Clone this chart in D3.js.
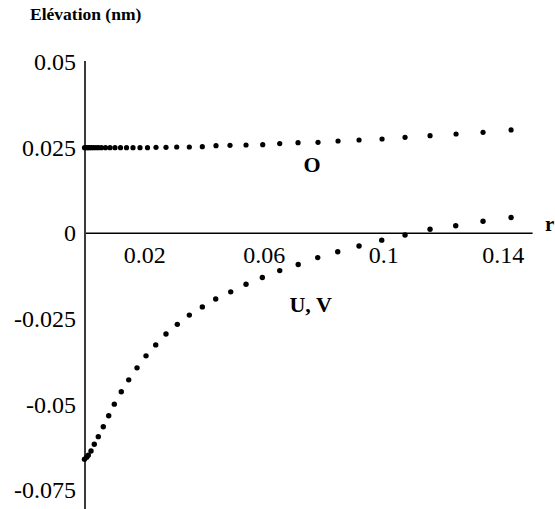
<!DOCTYPE html>
<html>
<head>
<meta charset="utf-8">
<script src="https://cdn.jsdelivr.net/npm/d3@7"></script>
<style>
  html, body { margin: 0; padding: 0; background: #fff; }
  svg { display: block; }
  svg text { font-family: "Liberation Serif", serif; }
</style>
</head>
<body>
<script>
// ---- data ----
const rO = [0, 0.00067, 0.00117, 0.00167, 0.00234, 0.00301, 0.00385, 0.00469, 0.00569,
  0.00703, 0.00854, 0.01021, 0.01205, 0.01406, 0.01624, 0.01858, 0.02109, 0.02394,
  0.02728, 0.03087, 0.03509, 0.03944, 0.04402, 0.04871, 0.05407, 0.05966, 0.06535,
  0.07148, 0.07817, 0.08487, 0.09190, 0.09960, 0.10730, 0.11567, 0.12437, 0.13341, 0.14279];
const elevO = [0.0250, 0.0250, 0.0250, 0.0250, 0.0250, 0.0250, 0.0250, 0.0250, 0.0250,
  0.0250, 0.0250, 0.0250, 0.0250, 0.0250, 0.0250, 0.0250, 0.0250, 0.0251,
  0.02512, 0.0252, 0.0252, 0.02529, 0.02558, 0.0257, 0.02579, 0.02588, 0.0262,
  0.02646, 0.02658, 0.02696, 0.02725, 0.02754, 0.02804, 0.0285, 0.0290, 0.0295, 0.0302];

const rUV = [0, 0.00074, 0.00127, 0.00218, 0.00328, 0.00462, 0.00629, 0.00810, 0.00998,
  0.01232, 0.01480, 0.01758, 0.02059, 0.02384, 0.02728, 0.03107, 0.03509, 0.03944,
  0.04392, 0.04895, 0.05407, 0.05953, 0.06535, 0.07154, 0.07807, 0.08477, 0.09190,
  0.09950, 0.10730, 0.11567, 0.12427, 0.13341, 0.14279];
const elevUV = [-0.0660, -0.0654, -0.0648, -0.0636, -0.0616, -0.0594, -0.0565, -0.0533, -0.0499,
  -0.0463, -0.0428, -0.0393, -0.0358, -0.0326, -0.0294, -0.0266, -0.0239, -0.0215,
  -0.0192, -0.0171, -0.0149, -0.0129, -0.0109, -0.0091, -0.0071, -0.0054, -0.0037,
  -0.0020, -0.0005, 0.0012, 0.0022, 0.0035, 0.0046];

const xTicks = [0.02, 0.06, 0.1, 0.14];
const yTicks = [0.05, 0.025, 0, -0.025, -0.05, -0.075];
const yTickLabels = ["0.05", "0.025", "0", "-0.025", "-0.05", "-0.075"];
const xTickLabels = ["0.02", "0.06", "0.1", "0.14"];

const titleText = "Elévation (nm)";
const xAxisName = "r";
const seriesLabels = [
  { text: "O", r: 0.0762, v: 0.0179 },
  { text: "U, V", r: 0.0757, v: -0.0230 }
];

// ---- chart ----
const W = 555, H = 509;
const serif = "Liberation Serif, serif";
const svg = d3.select("body").append("svg").attr("width", W).attr("height", H)
  .style("font-family", serif);

const x = d3.scaleLinear().domain([0, 0.15]).range([84.5, 532.6]);
const y = d3.scaleLinear().domain([-0.08, 0.05]).range([507.2, 62.1]);

// y axis (labels only)
const yAxis = d3.axisLeft(y).tickValues(yTicks).tickSize(0).tickPadding(9)
  .tickFormat((d, i) => yTickLabels[i]);
const gy = svg.append("g").attr("transform", "translate(85,0)").call(yAxis)
  .attr("font-family", serif).attr("font-size", 24);
gy.select(".domain").remove();
gy.selectAll("text").style("font-family", serif).style("font-size", "24px").attr("fill", "#000");

// x axis (labels only)
const xAxis = d3.axisBottom(x).tickValues(xTicks).tickSize(0).tickPadding(13)
  .tickFormat((d, i) => xTickLabels[i]);
const gx = svg.append("g").attr("transform", `translate(0,${y(0)})`).call(xAxis)
  .attr("font-family", serif).attr("font-size", 24);
gx.select(".domain").remove();
gx.selectAll("text").style("font-family", serif).style("font-size", "24px").attr("fill", "#000");

// axis lines
svg.append("line").attr("x1", x(0)).attr("x2", x(0.15)).attr("y1", y(0)).attr("y2", y(0))
  .attr("stroke", "#000").attr("stroke-width", 1.5);
svg.append("line").attr("x1", 85).attr("x2", 85).attr("y1", 61).attr("y2", H)
  .attr("stroke", "#3a3a3a").attr("stroke-width", 2);

// dots
const dO = rO.map((r, i) => ({ r, v: elevO[i] }));
const dUV = rUV.map((r, i) => ({ r, v: elevUV[i] }));
svg.append("g").selectAll("circle").data(dO).join("circle")
  .attr("cx", d => x(d.r)).attr("cy", d => y(d.v)).attr("r", 2.6).attr("fill", "#000");
svg.append("g").selectAll("circle").data(dUV).join("circle")
  .attr("cx", d => x(d.r)).attr("cy", d => y(d.v)).attr("r", 2.7).attr("fill", "#000");

// title
svg.append("text").attr("x", 30).attr("y", 20).text(titleText)
  .style("font-family", serif).style("font-weight", "bold").style("font-size", "17.5px").attr("fill", "#000");

// axis name
svg.append("text").attr("x", 545).attr("y", 231).text(xAxisName)
  .style("font-family", serif).style("font-weight", "bold").style("font-size", "21px").attr("fill", "#000");

// series labels
svg.append("g").selectAll("text").data(seriesLabels).join("text")
  .attr("x", d => x(d.r)).attr("y", d => y(d.v)).attr("text-anchor", "middle")
  .text(d => d.text)
  .style("font-family", serif).style("font-weight", "bold").style("font-size", "22px").attr("fill", "#000");
</script>
</body>
</html>
